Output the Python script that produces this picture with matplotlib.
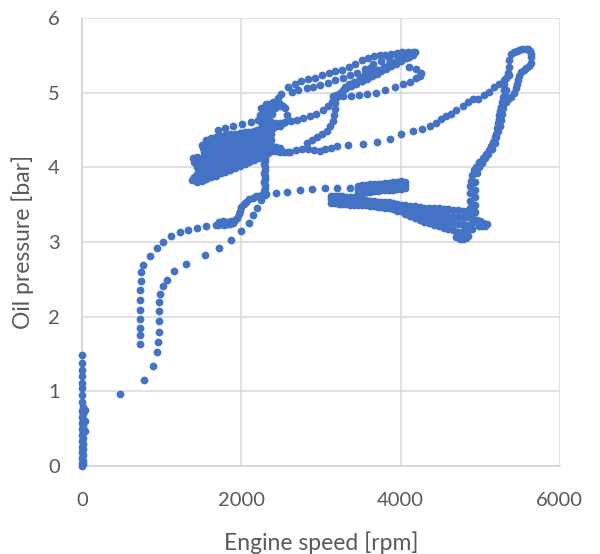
import numpy as np
import matplotlib
matplotlib.use("Agg")
import matplotlib.pyplot as plt

plt.rcParams['font.family'] = ['Lato', 'DejaVu Sans']

# engine idling, speed reads zero while pressure builds
idle_rpm = [0, 5, 0, 10, 0, 5, 0, 10, 0, 5, 0, 10, 0, 5, 0, 10, 0, 5, 0, 10, 0, 5, 0, 0, 0, 0, 0, 0, 0, 0]
idle_bar = [0.00, 0.02, 0.04, 0.07, 0.10, 0.14, 0.18, 0.22, 0.26, 0.30, 0.34, 0.38, 0.42, 0.46, 0.50,
            0.54, 0.58, 0.62, 0.66, 0.70, 0.74, 0.79, 0.86, 0.95, 1.04, 1.11, 1.20, 1.28, 1.38, 1.49]
stray_rpm = [40, 40, 35, 480]
stray_bar = [0.75, 0.60, 0.47, 0.97]

# first run-up
ramp1_rpm = [725, 725, 725, 725, 725, 725, 725, 735, 735, 770, 850, 935, 1020, 1115, 1225, 1330, 1440, 1560, 1680]
ramp1_bar = [1.63, 1.75, 1.85, 1.97, 2.09, 2.22, 2.35, 2.48, 2.60, 2.69, 2.81, 2.92, 3.00, 3.08, 3.13, 3.16, 3.19, 3.22, 3.23]
plateau_rpm = [1700, 1740, 1780, 1820, 1860, 1900, 1720, 1770, 1820, 1870, 1920, 1950, 1965, 1980, 2000,
               2030, 2060, 2100, 2140, 2180, 2220, 2260, 2300]
plateau_bar = [3.23, 3.24, 3.23, 3.24, 3.24, 3.26, 3.27, 3.28, 3.27, 3.28, 3.29, 3.32, 3.37, 3.42, 3.47,
               3.51, 3.54, 3.57, 3.59, 3.61, 3.62, 3.63, 3.63]

# second run-up
ramp2_rpm = [780, 885, 938, 947, 962, 962, 962, 967, 980, 1020, 1065, 1150, 1310, 1540, 1720, 1865, 1990,
             2090, 2150, 2200, 2250, 2310]
ramp2_bar = [1.15, 1.34, 1.52, 1.66, 1.80, 1.94, 2.07, 2.20, 2.30, 2.41, 2.49, 2.61, 2.70, 2.82, 2.92, 3.02,
             3.15, 3.26, 3.36, 3.46, 3.56, 3.64]
cruise_rpm = [2430, 2575, 2740, 2885, 3050, 3195, 3360]
cruise_bar = [3.65, 3.67, 3.69, 3.71, 3.72, 3.72, 3.72]

# steady cruise band
band_rpm = [3460, 3510, 3560, 3610, 3660, 3710, 3760, 3810, 3860, 3910, 3960, 4010, 4060]
band_top = [3.75, 3.76, 3.76, 3.77, 3.77, 3.78, 3.78, 3.79, 3.79, 3.80, 3.80, 3.81, 3.80]
band_mid = [3.71, 3.71, 3.72, 3.72, 3.73, 3.73, 3.74, 3.74, 3.75, 3.75, 3.76, 3.76, 3.76]
band_low = [3.66, 3.66, 3.67, 3.67, 3.68, 3.68, 3.69, 3.69, 3.70, 3.70, 3.71, 3.71, 3.72]

# hot running, pressure sagging
sag_rpm_a = [3120, 3170, 3220, 3270, 3320, 3370, 3420, 3470, 3520]
sag_top_a = [3.62, 3.62, 3.61, 3.61, 3.60, 3.60, 3.60, 3.59, 3.59]
sag_mid_a = [3.57, 3.57, 3.56, 3.56, 3.55, 3.55, 3.55, 3.54, 3.54]
sag_low_a = [3.52, 3.52, 3.51, 3.51, 3.51, 3.50, 3.50, 3.50, 3.50]
sag_rpm_b = [3560, 3610, 3660, 3710, 3760, 3810, 3860, 3910, 3960]
sag_top_b = [3.56, 3.55, 3.55, 3.54, 3.54, 3.53, 3.53, 3.52, 3.51]
sag_low_b = [3.49, 3.48, 3.48, 3.47, 3.47, 3.46, 3.46, 3.44, 3.42]
sag_rpm_c = [4000, 4060, 4120, 4180, 4240, 4300, 4360, 4420, 4480, 4540, 4600, 4660, 4720, 4780, 4840, 4900]
sag_top_c = [3.50, 3.49, 3.48, 3.48, 3.47, 3.46, 3.46, 3.45, 3.45, 3.44, 3.44, 3.43, 3.43, 3.42, 3.42, 3.40]
sag_mid1_c = [3.47, 3.45, 3.44, 3.43, 3.41, 3.40, 3.39, 3.38, 3.37, 3.36, 3.35, 3.34, 3.33, 3.32, 3.33, 3.33]
sag_mid2_c = [3.45, 3.42, 3.40, 3.38, 3.35, 3.33, 3.32, 3.30, 3.29, 3.27, 3.26, 3.25, 3.24, 3.23, 3.23, 3.25]
sag_low_c = [3.42, 3.38, 3.35, 3.32, 3.29, 3.27, 3.25, 3.23, 3.21, 3.19, 3.17, 3.16, 3.14, 3.13, 3.14, 3.18]
dip_rpm = [4700, 4740, 4780, 4820, 4850, 4720, 4800, 4760, 4960, 5000, 5040, 5080, 4980, 5020, 5060]
dip_bar = [3.06, 3.04, 3.04, 3.05, 3.08, 3.10, 3.10, 3.07, 3.30, 3.28, 3.26, 3.24, 3.22, 3.22, 3.21]

# climb to max speed
climb_rpm = [4870, 4872, 4875, 4875, 4878, 4885, 4900, 4925, 4950, 4990, 5033, 5075, 5116, 5140, 5158,
             5180, 5200, 5210, 5221, 5232, 5242, 5252, 5263, 5274, 5284, 5295, 5305]
climb_bar = [3.35, 3.45, 3.55, 3.65, 3.75, 3.82, 3.90, 3.96, 4.01, 4.07, 4.12, 4.18, 4.23, 4.28, 4.34,
             4.40, 4.45, 4.52, 4.59, 4.65, 4.70, 4.76, 4.81, 4.88, 4.94, 5.03, 5.12]
climb2_rpm = [4930, 4935, 4937, 4935, 4940, 4960, 4985, 5020, 5060, 5100, 5145, 5180, 5200, 5225, 5245,
              5260, 5270, 5285, 5300, 5310, 5318]
climb2_bar = [3.40, 3.50, 3.60, 3.70, 3.80, 3.92, 4.00, 4.06, 4.12, 4.18, 4.24, 4.32, 4.40, 4.48, 4.56,
              4.64, 4.72, 4.80, 4.88, 4.96, 5.04]
peak_rpm = [5330, 5346, 5357, 5367, 5388, 5420, 5460, 5492, 5530, 5570, 5597, 5620, 5635, 5639, 5639,
            5610, 5575, 5545, 5513, 5490, 5471, 5460, 5451, 5420, 5388, 5355, 5325]
peak_bar = [5.20, 5.26, 5.35, 5.44, 5.52, 5.54, 5.56, 5.57, 5.58, 5.59, 5.59, 5.56, 5.52, 5.48, 5.40,
            5.36, 5.33, 5.31, 5.28, 5.22, 5.17, 5.11, 5.06, 5.00, 4.94, 4.91, 4.88]
diag_rpm = [2610, 2690, 2765, 2840, 2909, 2985, 3053, 3125, 3196, 3340, 3531, 3699, 3866, 4010, 4153,
            4273, 4364, 4440, 4511, 4573, 4636, 4699, 4782, 4845, 4907, 4970, 5054, 5116, 5179, 5242, 5305, 5367]
diag_bar = [4.21, 4.23, 4.24, 4.24, 4.23, 4.22, 4.25, 4.26, 4.28, 4.30, 4.31, 4.34, 4.38, 4.44, 4.49,
            4.51, 4.56, 4.59, 4.65, 4.69, 4.71, 4.77, 4.82, 4.88, 4.91, 4.92, 4.97, 5.01, 5.08, 5.12, 5.17, 5.23]

# warm part-load cluster
blob_rpm_a = [1440, 1500, 1560, 1620, 1680, 1740, 1800, 1860, 1920, 1980, 2040, 2100, 2160, 2220, 2280, 2340]
blob_rpm_b = [1470, 1530, 1590, 1650, 1710, 1770, 1830, 1890, 1950, 2010, 2070, 2130, 2190, 2250, 2310, 2370]
blob_rpm_c = [1455, 1515, 1575, 1635, 1695, 1755, 1815, 1875, 1935, 1995, 2055, 2115, 2175, 2235, 2295, 2355]
blob_bar_0 = [3.80, 3.82, 3.84, 3.87, 3.89, 3.92, 3.94, 3.97, 3.99, 4.02, 4.04, 4.07, 4.10, 4.13, 4.16, 4.19]
blob_bar_1 = [3.85, 3.89, 3.92, 3.95, 3.97, 4.00, 4.02, 4.05, 4.07, 4.09, 4.11, 4.14, 4.17, 4.19, 4.22, 4.25]
blob_bar_15 = [3.88, 3.93, 3.96, 4.00, 4.02, 4.04, 4.06, 4.09, 4.11, 4.13, 4.15, 4.18, 4.20, 4.22, 4.25, 4.28]
blob_bar_2 = [3.91, 3.97, 4.00, 4.04, 4.06, 4.08, 4.10, 4.13, 4.14, 4.17, 4.18, 4.21, 4.23, 4.25, 4.28, 4.30]
blob_bar_3 = [3.96, 4.04, 4.09, 4.12, 4.14, 4.17, 4.19, 4.21, 4.22, 4.24, 4.26, 4.28, 4.30, 4.32, 4.34, 4.36]
blob_bar_35 = [3.99, 4.08, 4.14, 4.17, 4.19, 4.22, 4.24, 4.25, 4.27, 4.28, 4.30, 4.32, 4.33, 4.35, 4.37, 4.39]
blob_bar_4 = [4.01, 4.12, 4.18, 4.22, 4.24, 4.26, 4.28, 4.29, 4.31, 4.32, 4.34, 4.35, 4.36, 4.38, 4.39, 4.41]
blob_bar_5 = [4.08, 4.21, 4.27, 4.30, 4.32, 4.34, 4.35, 4.36, 4.37, 4.38, 4.39, 4.40, 4.41, 4.42, 4.43, 4.44]
blob_bar_55 = [4.11, 4.26, 4.32, 4.35, 4.37, 4.38, 4.39, 4.40, 4.41, 4.42, 4.43, 4.44, 4.45, 4.45, 4.46, 4.47]
blob_bar_6 = [4.14, 4.30, 4.36, 4.39, 4.41, 4.42, 4.43, 4.44, 4.45, 4.46, 4.47, 4.47, 4.48, 4.48, 4.49, 4.49]
tip_rpm = [1390, 1380, 1400, 1410]
tip_bar = [4.12, 3.83, 3.87, 4.07]
ext_rpm = [2380, 2430, 2480, 2530, 2580, 2380, 2430, 2480, 2250, 2300, 2350, 2200]
ext_bar = [4.22, 4.22, 4.21, 4.20, 4.20, 4.28, 4.27, 4.26, 4.52, 4.50, 4.50, 4.50]
above_rpm = [1709, 1793, 1897, 2003, 2120, 2210]
above_bar = [4.50, 4.53, 4.55, 4.58, 4.61, 4.64]
drop_rpm = [2290, 2295, 2295, 2290, 2295, 2295, 2290, 2295, 2295, 2290, 2295, 2295, 2290, 2295]
drop_bar = [4.16, 4.12, 4.08, 4.04, 4.00, 3.96, 3.92, 3.88, 3.84, 3.80, 3.76, 3.72, 3.68, 3.65]
knot_rpm = [2570, 2550, 2490, 2400, 2310, 2250, 2230, 2250, 2310, 2400, 2490, 2550, 2330, 2360, 2360,
            2420, 2420, 2480, 2480, 2280, 2280, 2460, 2300, 2300, 2350, 2350, 2440, 2440, 2520, 2520, 2390]
knot_bar = [4.70, 4.79, 4.85, 4.87, 4.85, 4.79, 4.70, 4.61, 4.55, 4.53, 4.55, 4.61, 4.70, 4.78, 4.62,
            4.80, 4.60, 4.82, 4.60, 4.74, 4.66, 4.93, 4.80, 4.60, 4.85, 4.55, 4.86, 4.56, 4.82, 4.59, 4.71]
s_rpm = [2620, 2700, 2780, 2860, 2940, 3020, 3090, 3140, 3165, 3175, 3175, 3165, 3145, 3115, 3070,
         3010, 2950, 2890, 2830]
s_bar = [4.62, 4.64, 4.66, 4.69, 4.72, 4.77, 4.82, 4.88, 4.94, 4.86, 4.78, 4.70, 4.62, 4.55, 4.49,
         4.44, 4.40, 4.36, 4.32]

# high load loops
arc1_rpm = [2500, 2585, 2670, 2755, 2840, 2925, 3010, 3095, 3180, 3265, 3350, 3430, 3510, 3590, 3670,
            3740, 3810, 3880, 3950, 4020, 4090, 4150, 4180]
arc1_bar = [4.98, 5.08, 5.12, 5.16, 5.18, 5.20, 5.23, 5.26, 5.29, 5.31, 5.35, 5.39, 5.44, 5.47, 5.49,
            5.50, 5.51, 5.52, 5.53, 5.54, 5.55, 5.55, 5.54]
arc2_rpm = [2630, 2713, 2818, 2901, 2985, 3089, 3173, 3277, 3361, 3450, 3550, 3650, 3750, 3850, 3950, 4050, 4130]
arc2_bar = [5.01, 5.03, 5.06, 5.08, 5.10, 5.13, 5.17, 5.20, 5.23, 5.27, 5.32, 5.38, 5.43, 5.47, 5.50, 5.52, 5.53]
back1_rpm = [4150, 4110, 4072, 4010, 3946, 3885, 3821, 3760, 3695, 3630, 3570, 3510, 3445, 3380, 3319,
             3280, 3235, 3190, 3150]
back1_bar = [5.50, 5.48, 5.46, 5.42, 5.39, 5.36, 5.32, 5.29, 5.26, 5.22, 5.19, 5.15, 5.12, 5.09, 5.06,
             5.03, 4.99, 4.97, 4.95]
back2_rpm = [4120, 4040, 3980, 3915, 3850, 3790, 3725, 3660, 3600, 3540, 3475, 3410, 3350, 3300]
back2_bar = [5.52, 5.47, 5.44, 5.41, 5.38, 5.35, 5.31, 5.27, 5.24, 5.20, 5.17, 5.14, 5.11, 5.08]
hook_rpm = [4105, 4197, 4260, 4240, 4197, 4113, 4029, 3925, 3800, 3695, 3579, 3480, 3380, 3280, 3200]
hook_bar = [5.34, 5.32, 5.26, 5.22, 5.19, 5.14, 5.12, 5.08, 5.03, 5.00, 4.98, 4.97, 4.96, 4.95, 4.94]
lump_rpm = [3500, 3550, 3600, 3650, 3700, 3520, 3580, 3640, 3700, 3560, 3620]
lump_bar = [5.20, 5.25, 5.28, 5.30, 5.31, 5.15, 5.18, 5.22, 5.25, 5.30, 5.33]

rpm_parts = [idle_rpm, stray_rpm, ramp1_rpm, plateau_rpm, ramp2_rpm, cruise_rpm,
             band_rpm, band_rpm, band_rpm,
             sag_rpm_a, sag_rpm_a, sag_rpm_a, sag_rpm_b, sag_rpm_b,
             sag_rpm_c, sag_rpm_c, sag_rpm_c, sag_rpm_c, dip_rpm,
             climb_rpm, climb2_rpm, peak_rpm, diag_rpm,
             blob_rpm_a, blob_rpm_b, blob_rpm_c, blob_rpm_a, blob_rpm_b, blob_rpm_c, blob_rpm_a,
             blob_rpm_b, blob_rpm_c, blob_rpm_a,
             tip_rpm, ext_rpm, above_rpm, drop_rpm, knot_rpm, s_rpm,
             arc1_rpm, arc2_rpm, back1_rpm, back2_rpm, hook_rpm, lump_rpm]
bar_parts = [idle_bar, stray_bar, ramp1_bar, plateau_bar, ramp2_bar, cruise_bar,
             band_top, band_mid, band_low,
             sag_top_a, sag_mid_a, sag_low_a, sag_top_b, sag_low_b,
             sag_top_c, sag_mid1_c, sag_mid2_c, sag_low_c, dip_bar,
             climb_bar, climb2_bar, peak_bar, diag_bar,
             blob_bar_0, blob_bar_1, blob_bar_15, blob_bar_2, blob_bar_3, blob_bar_35, blob_bar_4,
             blob_bar_5, blob_bar_55, blob_bar_6,
             tip_bar, ext_bar, above_bar, drop_bar, knot_bar, s_bar,
             arc1_bar, arc2_bar, back1_bar, back2_bar, hook_bar, lump_bar]

rpm = np.concatenate([np.asarray(p, float) for p in rpm_parts])
bar = np.concatenate([np.asarray(p, float) for p in bar_parts])

fig = plt.figure(figsize=(6.0, 5.54), dpi=100)
ax = fig.add_axes([0.137, 0.159, 0.796, 0.8085])

ax.plot(rpm, bar, 'o', ms=5.6, mew=0, color='#4472C4', clip_on=False, zorder=3)

ax.set_xlim(0, 6000)
ax.set_ylim(0, 6)
ax.set_xticks([0, 2000, 4000, 6000])
ax.set_yticks([0, 1, 2, 3, 4, 5, 6])
ax.grid(True, color='#D9D9D9', lw=1.1, zorder=0)
ax.set_axisbelow(True)
for side in ['top', 'right']:
    ax.spines[side].set_visible(False)
for side in ['left', 'bottom']:
    ax.spines[side].set_color('#D0D0D0')
    ax.spines[side].set_linewidth(1.1)

ax.tick_params(axis='both', length=0, labelsize=14.5, labelcolor='#595959')
ax.tick_params(axis='x', pad=19)
ax.tick_params(axis='y', pad=16)

ax.set_xlabel('Engine speed [rpm]', fontsize=16.5, color='#595959', labelpad=16)
ax.set_ylabel('Oil pressure [bar]', fontsize=16.5, color='#595959', labelpad=10)

fig.savefig('out.png', dpi=100)
